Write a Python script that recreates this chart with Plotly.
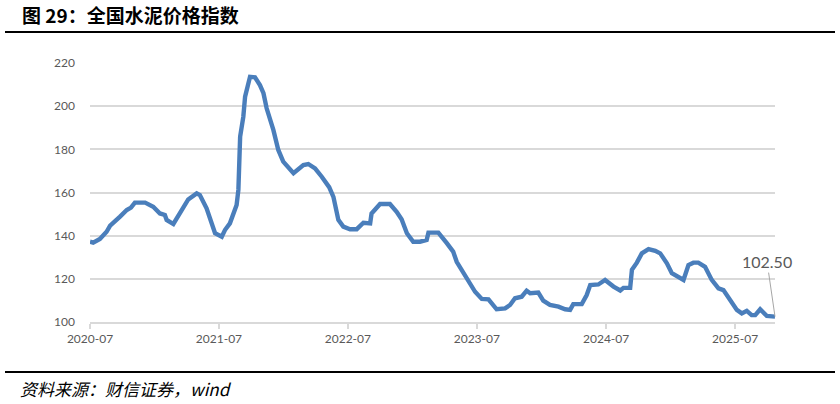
import plotly.graph_objects as go

dates = [
    "2020-07-01", "2020-07-10", "2020-07-29", "2020-08-17", "2020-08-27", "2020-09-10",
    "2020-09-24", "2020-10-13", "2020-10-25", "2020-11-05", "2020-12-04", "2020-12-27",
    "2021-01-15", "2021-01-29", "2021-02-03", "2021-02-22", "2021-03-13", "2021-04-05",
    "2021-04-29", "2021-05-08", "2021-05-27", "2021-06-06", "2021-06-15", "2021-06-20",
    "2021-07-09", "2021-07-18", "2021-08-01", "2021-08-11", "2021-08-20", "2021-08-25",
    "2021-08-30", "2021-09-08", "2021-09-13", "2021-09-27", "2021-10-11", "2021-10-25",
    "2021-11-04", "2021-11-13", "2021-12-02", "2021-12-16", "2021-12-30", "2022-01-28",
    "2022-02-25", "2022-03-11", "2022-03-30", "2022-04-18", "2022-05-02", "2022-05-09",
    "2022-05-21", "2022-06-04", "2022-06-18", "2022-07-07", "2022-07-26", "2022-08-14",
    "2022-09-02", "2022-09-06", "2022-09-30", "2022-10-28", "2022-11-16", "2022-11-30",
    "2022-12-15", "2023-01-02", "2023-01-21", "2023-02-09", "2023-02-14", "2023-03-14",
    "2023-04-07", "2023-04-25", "2023-05-05", "2023-05-19", "2023-05-29", "2023-06-12",
    "2023-06-26", "2023-07-15", "2023-08-03", "2023-08-26", "2023-09-19", "2023-10-03",
    "2023-10-17", "2023-11-05", "2023-11-19", "2023-11-29", "2023-12-22", "2024-01-05",
    "2024-01-24", "2024-02-17", "2024-03-07", "2024-03-21", "2024-03-30", "2024-04-23",
    "2024-05-07", "2024-05-17", "2024-06-09", "2024-06-28", "2024-07-22", "2024-08-10",
    "2024-08-19", "2024-09-07", "2024-09-12", "2024-09-26", "2024-10-10", "2024-10-29",
    "2024-11-17", "2024-12-01", "2024-12-20", "2025-01-03", "2025-01-22", "2025-02-05",
    "2025-02-19", "2025-03-05", "2025-03-19", "2025-04-07", "2025-04-26", "2025-05-15",
    "2025-05-29", "2025-06-17", "2025-07-06", "2025-07-20", "2025-08-03", "2025-08-17",
    "2025-08-27", "2025-09-10", "2025-09-29", "2025-10-22",
]
values = [
    137.2, 136.8, 138.5, 141.8, 144.6, 146.5,
    148.8, 151.9, 153.0, 155.3, 155.3, 153.4,
    150.3, 149.6, 147.3, 145.4, 150.3, 156.8,
    159.6, 158.8, 152.7, 148.0, 144.2, 141.1,
    139.5, 142.6, 145.7, 149.6, 154.2, 161.2,
    185.9, 195.1, 204.4, 213.6, 213.4, 209.8,
    206.0, 199.0, 189.0, 179.7, 174.3, 168.9,
    172.7, 173.2, 171.2, 167.3, 164.3, 162.5,
    158.0, 147.3, 144.2, 143.0, 143.0, 146.0,
    145.7, 150.3, 154.7, 154.7, 151.1, 147.6,
    141.1, 137.2, 137.2, 138.0, 141.4, 141.4,
    136.5, 132.6, 127.9, 124.1, 121.0, 117.9,
    114.0, 110.7, 110.5, 105.9, 106.3, 107.9,
    111.0, 111.7, 114.5, 113.3, 113.6, 109.9,
    107.9, 107.1, 105.9, 105.6, 108.3, 108.3,
    112.5, 117.1, 117.4, 119.5, 116.4, 114.6,
    115.8, 115.8, 124.2, 127.5, 131.8, 133.8,
    133.0, 131.8, 127.2, 122.6, 121.0, 119.5,
    126.4, 127.5, 127.5, 125.6, 119.5, 115.6,
    114.8, 110.2, 105.6, 104.0, 105.2, 103.2,
    103.2, 105.9, 102.8, 102.5,
]
tick_dates = ["2020-07-01", "2021-07-01", "2022-07-01", "2023-07-01", "2024-07-01", "2025-07-01"]
tick_labels = ["2020-07", "2021-07", "2022-07", "2023-07", "2024-07", "2025-07"]
y_ticks = [100, 120, 140, 160, 180, 200, 220]

title_text = "图 29：全国水泥价格指数"
source_text = "资料来源：财信证券，wind"
last_label = "102.50"

W, H = 840, 404
ML, MR, MT, MB = 90, 65, 63, 82
PW, PH = W - ML - MR, H - MT - MB


def px(x):
    return (x - ML) / PW


def py(y):
    return (H - MB - y) / PH


fig = go.Figure()
fig.add_trace(go.Scatter(
    x=dates, y=values, mode="lines",
    line=dict(color="#4a7ebb", width=4.4, shape="linear"),
    hoverinfo="skip", showlegend=False,
))

fig.add_annotation(
    x=dates[-1], y=values[-1], xref="x", yref="y",
    text=last_label, showarrow=True, arrowhead=0, arrowwidth=1,
    arrowcolor="#a6a6a6", ax=-8, ay=-55, standoff=0,
    font=dict(family="Lato, sans-serif", size=16, color="#595959"),
)

fig.add_annotation(
    x=px(20), y=py(15), xref="paper", yref="paper", xanchor="left", yanchor="middle",
    text="<b>" + title_text + "</b>", showarrow=False,
    font=dict(family="Noto Sans CJK SC, sans-serif", size=19, color="#000000"),
)
fig.add_annotation(
    x=px(18), y=py(388), xref="paper", yref="paper", xanchor="left", yanchor="middle",
    text="<i>" + source_text + "</i>", showarrow=False,
    font=dict(family="Noto Sans CJK SC, sans-serif", size=17, color="#000000"),
)
fig.add_shape(type="line", xref="paper", yref="paper",
              x0=px(5), x1=px(835), y0=py(32), y1=py(32),
              line=dict(color="#000000", width=2))
fig.add_shape(type="line", xref="paper", yref="paper",
              x0=px(5), x1=px(835), y0=py(372), y1=py(372),
              line=dict(color="#000000", width=2))

fig.update_layout(
    width=W, height=H,
    margin=dict(l=ML, r=MR, t=MT, b=MB),
    paper_bgcolor="#ffffff", plot_bgcolor="#ffffff",
    font=dict(family="Lato, sans-serif", size=12, color="#595959"),
)
fig.update_xaxes(
    type="date", range=[dates[0], dates[-1]],
    tickvals=tick_dates, ticktext=tick_labels,
    showgrid=False, showline=True, linecolor="#d9d9d9", linewidth=1.5,
    ticks="outside", ticklen=5, tickcolor="#d9d9d9", tickwidth=1.5,
    tickfont=dict(family="Lato, sans-serif", size=12, color="#595959"),
    zeroline=False, fixedrange=True,
)
fig.update_yaxes(
    range=[100, 220], tickvals=y_ticks,
    showgrid=True, gridcolor="#d9d9d9", gridwidth=1.5,
    showline=False, zeroline=False, ticks="", ticklabelstandoff=14,
    tickfont=dict(family="Lato, sans-serif", size=12, color="#595959"),
    fixedrange=True,
)

fig.write_html(
    "out.html",
    config={"displayModeBar": False},
    post_script="document.body.style.margin='0';document.body.style.overflow='hidden';",
)
